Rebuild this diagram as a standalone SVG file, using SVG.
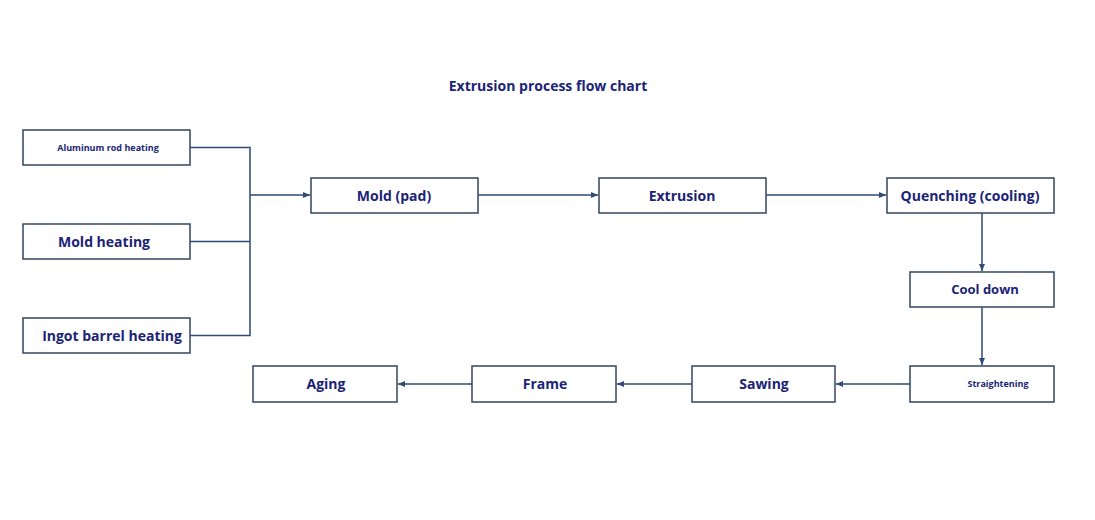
<svg xmlns="http://www.w3.org/2000/svg" width="1095" height="520" viewBox="0 0 1095 520">
<style>
.b{fill:#fff;stroke:#34455e;stroke-width:1.5}
.t{font-family:"Open Sans","DejaVu Sans",sans-serif;font-weight:bold;fill:#1b2377;text-anchor:middle;dominant-baseline:central}
.c{fill:none;stroke:#2d4a78;stroke-width:1.5}
</style>
<defs><marker id="a" markerWidth="8" markerHeight="8" refX="7" refY="4" orient="auto" markerUnits="userSpaceOnUse"><path d="M0,1 L7,4 L0,7 Z" fill="#2d4a78"/></marker></defs>
<rect width="1095" height="520" fill="#fff"/>
<text class="t" x="548" y="85" font-size="14">Extrusion process flow chart</text>
<g id="n1"><rect class="b" x="23" y="130" width="167" height="35"/><text class="t" x="108" y="147" font-size="9">Aluminum rod heating</text></g>
<g id="n2"><rect class="b" x="23" y="224" width="167" height="35"/><text class="t" x="104" y="241" font-size="14">Mold heating</text></g>
<g id="n3"><rect class="b" x="23" y="318" width="167" height="35"/><text class="t" x="112" y="335" font-size="14">Ingot barrel heating</text></g>
<g id="n4"><rect class="b" x="311" y="178" width="167" height="35"/><text class="t" x="394" y="195" font-size="14">Mold (pad)</text></g>
<g id="n5"><rect class="b" x="599" y="178" width="167" height="35"/><text class="t" x="682" y="195" font-size="14">Extrusion</text></g>
<g id="n6"><rect class="b" x="887" y="178" width="167" height="35"/><text class="t" x="970" y="195" font-size="14">Quenching (cooling)</text></g>
<g id="n7"><rect class="b" x="910" y="272" width="144" height="35"/><text class="t" x="985" y="289" font-size="13">Cool down</text></g>
<g id="n8"><rect class="b" x="910" y="366" width="144" height="36"/><text class="t" x="998" y="383" font-size="9">Straightening</text></g>
<g id="n9"><rect class="b" x="692" y="366" width="143" height="36"/><text class="t" x="764" y="383" font-size="14">Sawing</text></g>
<g id="n10"><rect class="b" x="472" y="366" width="144" height="36"/><text class="t" x="545" y="383" font-size="14">Frame</text></g>
<g id="n11"><rect class="b" x="253" y="366" width="144" height="36"/><text class="t" x="326" y="383" font-size="14">Aging</text></g>
<g id="connectors">
<path class="c" d="M190,147.5 H250 V335.5 H190 M190,241.5 H250"/>
<path class="c" d="M250,195 H310" marker-end="url(#a)"/>
<path class="c" d="M478,195 H598" marker-end="url(#a)"/>
<path class="c" d="M766,195 H886" marker-end="url(#a)"/>
<path class="c" d="M982,213 V271" marker-end="url(#a)"/>
<path class="c" d="M982,307 V365" marker-end="url(#a)"/>
<path class="c" d="M910,384 H836" marker-end="url(#a)"/>
<path class="c" d="M692,384 H617" marker-end="url(#a)"/>
<path class="c" d="M472,384 H398" marker-end="url(#a)"/>
</g>
</svg>
